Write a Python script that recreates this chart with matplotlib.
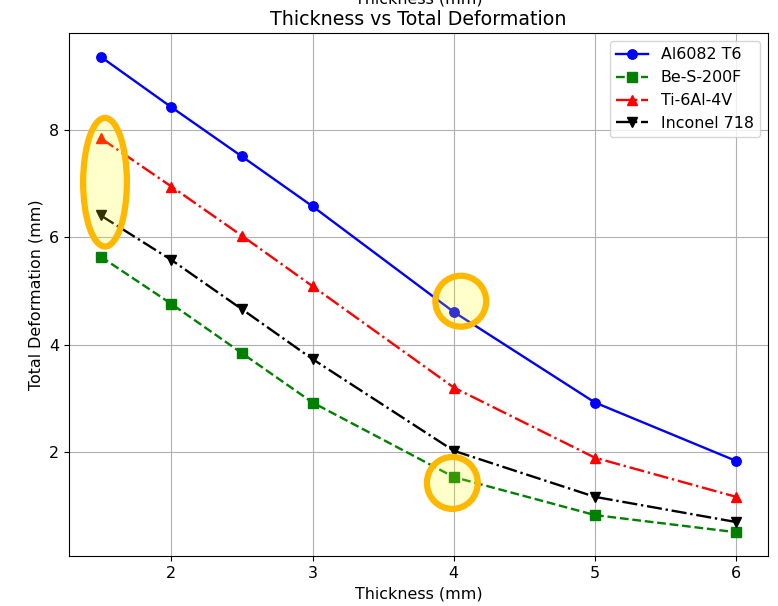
import matplotlib
matplotlib.use("Agg")
import matplotlib.pyplot as plt
from matplotlib.patches import Ellipse

plt.rcParams['font.size'] = 11.4
plt.rcParams['lines.markersize'] = 6.8
plt.rcParams['lines.linewidth'] = 1.7

thickness = [1.5, 2, 2.5, 3, 4, 5, 6]
al6082 = [9.37, 8.43, 7.51, 6.58, 4.61, 2.92, 1.83]
be_s200f = [5.64, 4.76, 3.84, 2.92, 1.53, 0.82, 0.50]
ti64 = [7.85, 6.95, 6.03, 5.09, 3.20, 1.89, 1.16]
inconel = [6.41, 5.58, 4.66, 3.73, 2.02, 1.16, 0.69]

fig = plt.figure(figsize=(7.78, 6.06), dpi=100)
ax = fig.add_axes([0.0887, 0.0825, 0.8983, 0.863])

ax.plot(thickness, al6082, 'o-', color='blue', label='Al6082 T6')
ax.plot(thickness, be_s200f, 's--', color='green', label='Be-S-200F')
ax.plot(thickness, ti64, '^-.', color='red', label='Ti-6Al-4V')
ax.plot(thickness, inconel, 'v-.', color='black', label='Inconel 718')
ax.autoscale_view()
ax.autoscale(False)

ax.set_xlabel('Thickness (mm)')
ax.set_ylabel('Total Deformation (mm)')
ax.set_title('Thickness vs Total Deformation')
ax.grid(True)
ax.legend(loc='upper right')

# highlight annotations (center x, center y, width, height) in data units
highlights = [(1.53, 7.03, 0.31, 2.40), (4.05, 4.81, 0.36, 0.95), (3.99, 1.42, 0.36, 0.97)]
for cx, cy, w, h in highlights:
    ax.add_patch(Ellipse((cx, cy), w, h, facecolor=(1, 1, 0, 0.2),
                         edgecolor='#FFB800', linewidth=4.5, zorder=5))

fig.text(0.538, 1 - 3 / 606, 'Thickness (mm)', ha='center', va='baseline')

fig.savefig('out.png', dpi=100)
